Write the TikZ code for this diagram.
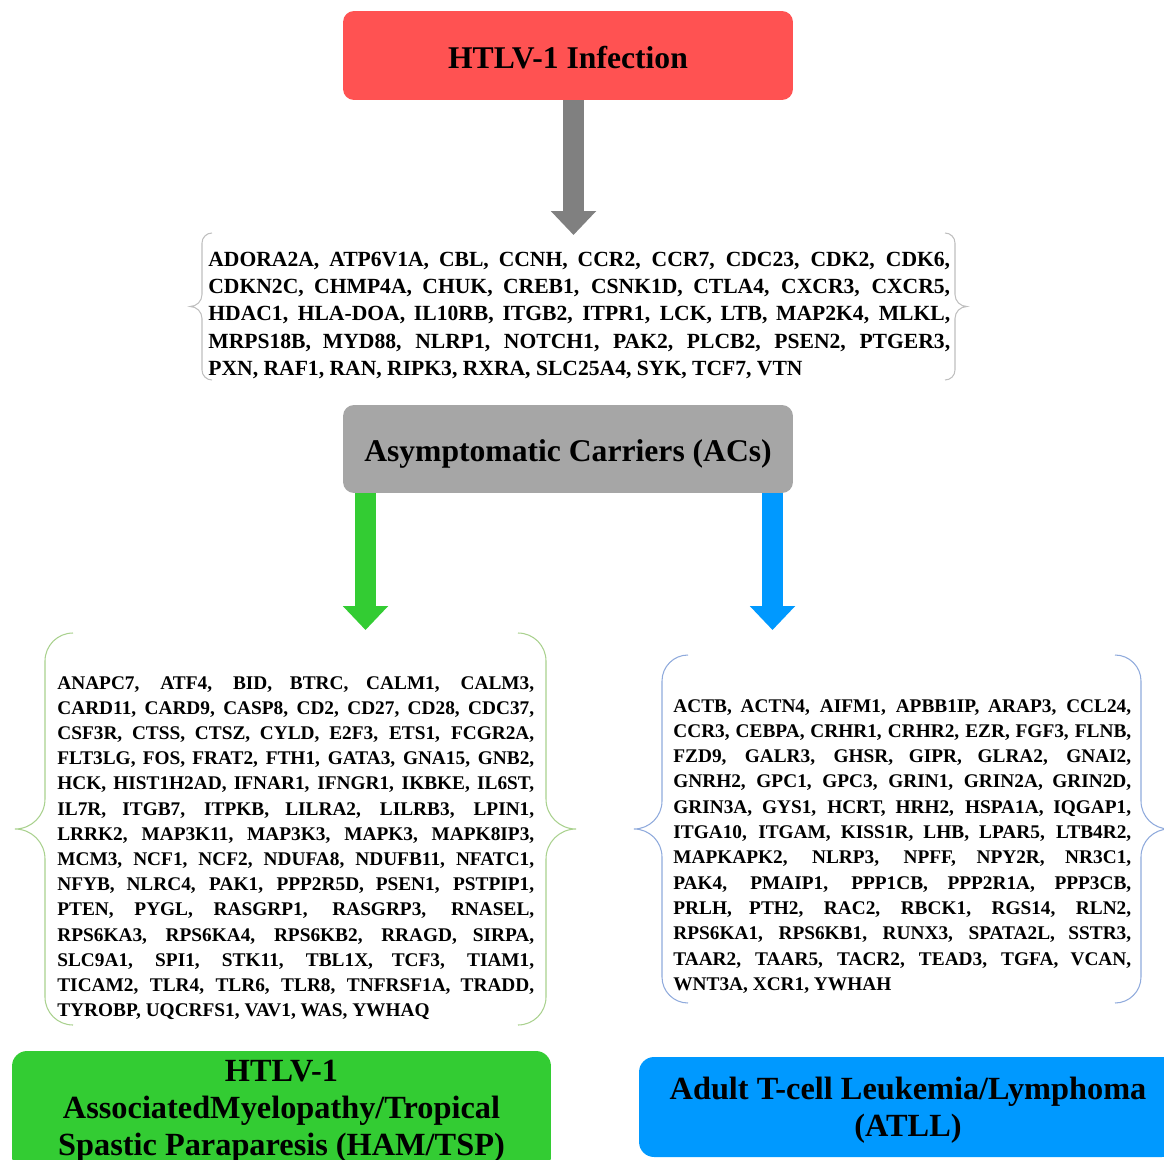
\documentclass[tikz,border=0pt]{standalone}
\usepackage{fontspec}
\setmainfont{Liberation Serif}
\usepackage{tikz}
\usetikzlibrary{arrows.meta, positioning, calc}
\definecolor{infectred}{HTML}{FF5252}
\definecolor{carriergray}{HTML}{A6A6A6}
\definecolor{arrowgray}{HTML}{808080}
\definecolor{hamgreen}{HTML}{33CC33}
\definecolor{atllblue}{HTML}{0099FF}
\definecolor{bracegray}{HTML}{BFBFBF}
\definecolor{bracegreen}{HTML}{A9D18E}
\definecolor{braceblue}{HTML}{8FAADC}
\newcommand{\genefont}[2]{\bfseries\fontsize{#1}{#2}\selectfont\tolerance=9999\hbadness=10000\hyphenpenalty=10000\relax}
\newcommand{\genebrace}[7]{% colour, left x, right x, top y, bottom y, corner r, tip r
  \pgfmathsetmacro{\bmid}{(#4+#5)/2}
  \draw[#1, line width=0.6pt] (#2+#6,#4) arc[start angle=90, end angle=180, radius=#6]
    -- (#2,\bmid+#7) arc[start angle=0, end angle=-90, radius=#7]
    arc[start angle=90, end angle=0, radius=#7]
    -- (#2,#5+#6) arc[start angle=180, end angle=270, radius=#6];
  \draw[#1, line width=0.6pt] (#3-#6,#4) arc[start angle=90, end angle=0, radius=#6]
    -- (#3,\bmid+#7) arc[start angle=180, end angle=270, radius=#7]
    arc[start angle=90, end angle=180, radius=#7]
    -- (#3,#5+#6) arc[start angle=0, end angle=-90, radius=#6];
}
\tikzstyle{stage} = [rectangle, rounded corners=0.22cm, minimum width=9cm, minimum height=1.78cm, text centered, text height=14.4pt, text depth=0pt, font=\bfseries\fontsize{18}{21}\selectfont]
\tikzstyle{outcome} = [rectangle, rounded corners=0.3cm, minimum width=10.78cm, text centered, align=center, font=\bfseries\fontsize{18.4}{21}\selectfont]
\tikzstyle{genelist} = [inner sep=0pt, anchor=base west, align=justify]
\tikzstyle{fatarrow} = [line width=0.42cm, -{Triangle[width=0.88cm, length=0.48cm]}]

\begin{document}
\begin{tikzpicture}[x=0.02cm, y=0.02cm]
    \useasboundingbox (0,0) rectangle (1164,-1160);
    \node (infect) [stage, fill=infectred] at (568,-55.5) {HTLV-1 Infection};
    \node (acs) [stage, fill=carriergray, minimum height=1.76cm] at (568,-449) {Asymptomatic Carriers (ACs)};
    \node (ham) [outcome, fill=hamgreen, minimum height=2.42cm] at (281.5,-1111.5) {HTLV-1\\AssociatedMyelopathy/Tropical\\Spastic Paraparesis (HAM/TSP)};
    \node (atll) [outcome, fill=atllblue, minimum width=10.76cm, minimum height=2cm, text depth=0pt] at (908,-1107) {Adult T-cell Leukemia/Lymphoma\\(ATLL)};

    \node (acgenes) [genelist, text width=14.84cm, font=\genefont{12.3}{15.5}] at (208,-266.5)
        {ADORA2A, ATP6V1A, CBL, CCNH, CCR2, CCR7, CDC23, CDK2, CDK6,\linebreak
         CDKN2C, CHMP4A, CHUK, CREB1, CSNK1D, CTLA4, CXCR3, CXCR5,\linebreak
         HDAC1, HLA-DOA, IL10RB, ITGB2, ITPR1, LCK, LTB, MAP2K4, MLKL,\linebreak
         MRPS18B, MYD88, NLRP1, NOTCH1, PAK2, PLCB2, PSEN2, PTGER3,\linebreak
         PXN, RAF1, RAN, RIPK3, RXRA, SLC25A4, SYK, TCF7, VTN};
    \node (hamgenes) [genelist, text width=9.54cm, font=\genefont{11}{14.35}] at (57,-689)
        {ANAPC7, ATF4, BID, BTRC, CALM1, CALM3,\linebreak
         CARD11, CARD9, CASP8, CD2, CD27, CD28, CDC37,\linebreak
         CSF3R, CTSS, CTSZ, CYLD, E2F3, ETS1, FCGR2A,\linebreak
         FLT3LG, FOS, FRAT2, FTH1, GATA3, GNA15, GNB2,\linebreak
         HCK, HIST1H2AD, IFNAR1, IFNGR1, IKBKE, IL6ST,\linebreak
         IL7R, ITGB7, ITPKB, LILRA2, LILRB3, LPIN1,\linebreak
         LRRK2, MAP3K11, MAP3K3, MAPK3, MAPK8IP3,\linebreak
         MCM3, NCF1, NCF2, NDUFA8, NDUFB11, NFATC1,\linebreak
         NFYB, NLRC4, PAK1, PPP2R5D, PSEN1, PSTPIP1,\linebreak
         PTEN, PYGL, RASGRP1, RASGRP3, RNASEL,\linebreak
         RPS6KA3, RPS6KA4, RPS6KB2, RRAGD, SIRPA,\linebreak
         SLC9A1, SPI1, STK11, TBL1X, TCF3, TIAM1,\linebreak
         TICAM2, TLR4, TLR6, TLR8, TNFRSF1A, TRADD,\linebreak
         TYROBP, UQCRFS1, VAV1, WAS, YWHAQ};
    \node (atllgenes) [genelist, text width=9.16cm, font=\genefont{11}{14.4}] at (673,-712)
        {ACTB, ACTN4, AIFM1, APBB1IP, ARAP3, CCL24,\linebreak
         CCR3, CEBPA, CRHR1, CRHR2, EZR, FGF3, FLNB,\linebreak
         FZD9, GALR3, GHSR, GIPR, GLRA2, GNAI2,\linebreak
         GNRH2, GPC1, GPC3, GRIN1, GRIN2A, GRIN2D,\linebreak
         GRIN3A, GYS1, HCRT, HRH2, HSPA1A, IQGAP1,\linebreak
         ITGA10, ITGAM, KISS1R, LHB, LPAR5, LTB4R2,\linebreak
         MAPKAPK2, NLRP3, NPFF, NPY2R, NR3C1,\linebreak
         PAK4, PMAIP1, PPP1CB, PPP2R1A, PPP3CB,\linebreak
         PRLH, PTH2, RAC2, RBCK1, RGS14, RLN2,\linebreak
         RPS6KA1, RPS6KB1, RUNX3, SPATA2L, SSTR3,\linebreak
         TAAR2, TAAR5, TACR2, TEAD3, TGFA, VCAN,\linebreak
         WNT3A, XCR1, YWHAH};

    \genebrace{bracegray}{202}{955}{-233}{-380}{10}{12}
    \genebrace{bracegreen}{45}{546}{-633}{-1025}{28}{30}
    \genebrace{braceblue}{662}{1141}{-655}{-1003}{26}{28}

    \coordinate (graytip) at (573.5,-235);
    \coordinate (greentip) at (365.5,-630);
    \coordinate (bluetip) at (772.5,-630);
    \draw [fatarrow, arrowgray] (infect.south -| graytip) -- (graytip);
    \draw [fatarrow, hamgreen] (acs.south -| greentip) -- (greentip);
    \draw [fatarrow, atllblue] (acs.south -| bluetip) -- (bluetip);
\end{tikzpicture}
\end{document}
